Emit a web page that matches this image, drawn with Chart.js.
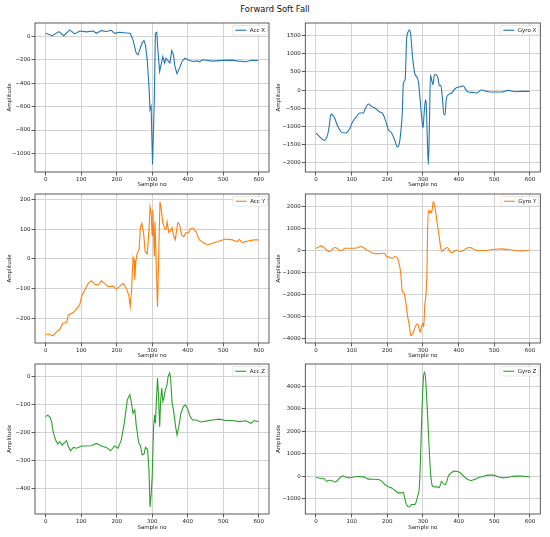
<!DOCTYPE html>
<html>
<head>
<meta charset="utf-8">
<script src="https://cdn.jsdelivr.net/npm/chart.js@4.4.1/dist/chart.umd.min.js"></script>
<style>
  body { margin: 0; background: #fff; }
  #page { position: relative; width: 550px; height: 537px; overflow: hidden; font-family: 'DejaVu Sans', sans-serif; }
  #title { position: absolute; left: 0; top: 4px; width: 550px; text-align: center; font-size: 8.4px; color: #111; }
  .cell { position: absolute; }
</style>
</head>
<body>
<div id="page">
  <div id="title">Forward Soft Fall</div>
</div>
<script>
// ── Data ──
const xTicks = [0, 100, 200, 300, 400, 500, 600];

const accXSamples = [0, 19, 37, 51, 68, 82, 96, 115, 134, 143, 157, 171, 185, 194, 208, 227, 238, 246, 255, 260, 265, 272, 277, 281, 286, 291, 294, 297, 301, 306, 309, 313, 316, 321, 325, 330, 335, 339, 346, 350, 355, 360, 364, 370, 377, 384, 392, 400, 414, 428, 433, 442, 470, 500, 526, 538, 564, 580, 599];
const accXValues  = [25, 5, 40, 5, 54, 20, 45, 37, 45, 25, 48, 40, 51, 25, 34, 28, 25, -31, -145, -159, -116, -54, -37, -74, -201, -428, -626, -600, -1094, -541, 25, 34, -116, -300, -244, -173, -229, -187, -215, -229, -122, -159, -258, -320, -272, -215, -187, -201, -215, -210, -218, -201, -212, -206, -204, -210, -218, -205, -207];
const accXTicks   = [-1000, -800, -600, -400, -200, 0];

const gyroXSamples = [0, 11, 23, 32, 37, 42, 51, 61, 72, 83, 93, 102, 114, 123, 133, 137, 147, 156, 165, 179, 186, 195, 203, 212, 222, 228, 233, 238, 242, 245, 250, 254, 259, 263, 266, 271, 278, 282, 287, 292, 296, 300, 303, 307, 309, 312, 315, 318, 321, 324, 328, 332, 337, 342, 346, 350, 354, 359, 362, 365, 371, 380, 390, 399, 408, 413, 420, 427, 441, 450, 464, 479, 493, 521, 539, 558, 577, 599];
const gyroXValues  = [-1178, -1288, -1379, -1251, -995, -660, -740, -995, -1160, -1178, -1087, -885, -721, -630, -630, -538, -383, -447, -493, -602, -630, -831, -1087, -1178, -1407, -1562, -1498, -1133, -630, 193, 284, 1381, 1609, 1655, 1471, 877, 420, 375, 238, -265, -721, -1041, -677, -265, -356, -1270, -2046, -995, 420, 284, 147, 420, 420, 330, 120, 129, -172, -675, -675, -265, -128, -81, 37, 83, 101, 120, 10, -54, -63, -81, 1, -36, -54, -54, -8, -45, -36, -36];
const gyroXTicks   = [-2000, -1500, -1000, -500, 0, 500, 1000, 1500];

const accYSamples = [0, 7, 21, 31, 40, 48, 59, 64, 78, 92, 96, 101, 110, 120, 129, 138, 148, 157, 166, 176, 190, 199, 208, 218, 227, 234, 238, 242, 246, 249, 251, 254, 258, 263, 267, 271, 276, 280, 286, 291, 294, 297, 300, 302, 306, 308, 311, 315, 319, 322, 326, 330, 335, 339, 342, 347, 350, 356, 360, 365, 372, 377, 383, 389, 395, 402, 409, 416, 423, 433, 447, 456, 470, 489, 507, 526, 540, 545, 554, 573, 587, 599];
const accYValues  = [-255, -252, -258, -244, -236, -216, -213, -188, -180, -160, -154, -126, -104, -82, -73, -85, -87, -73, -82, -93, -91, -101, -93, -82, -98, -121, -160, -104, 6, -3, -70, -9, 19, 30, 108, 120, 86, 25, 17, 97, 175, 153, 80, 164, 8, 125, -3, -160, 41, 192, 164, 120, 103, 99, 125, 88, 92, 105, 80, 64, 122, 116, 80, 75, 88, 88, 103, 103, 92, 64, 53, 47, 53, 60, 67, 64, 58, 66, 55, 61, 64, 64];
const accYTicks   = [-200, -100, 0, 100, 200];

const gyroYSamples = [0, 7, 14, 21, 30, 37, 44, 53, 61, 67, 75, 81, 95, 109, 119, 126, 133, 142, 156, 170, 184, 192, 198, 207, 214, 222, 228, 234, 238, 242, 247, 252, 257, 262, 266, 271, 276, 280, 285, 289, 292, 296, 300, 302, 305, 308, 311, 313, 316, 318, 321, 324, 329, 334, 340, 346, 350, 354, 359, 364, 369, 374, 380, 387, 394, 404, 413, 422, 432, 441, 450, 464, 483, 501, 521, 539, 558, 577, 599];
const gyroYValues  = [111, 157, 218, 157, 35, -41, 35, 142, 81, 5, 35, 111, 111, 111, 142, 187, 142, 35, -87, -148, -117, -117, -270, -300, -346, -270, -346, -650, -1107, -1869, -1945, -2402, -3011, -3468, -3895, -3803, -3590, -3422, -3346, -3544, -3742, -3468, -3316, -3498, -2478, -2097, -1031, 949, 1863, 1711, 1833, 1711, 2244, 1940, 1254, 568, 111, -41, 65, 111, 142, 5, -87, -41, 20, -41, 5, 111, 142, 81, 20, 5, 20, 65, 81, 50, 5, -11, 20];
const gyroYTicks   = [-4000, -3000, -2000, -1000, 0, 1000, 2000];

const accZSamples = [0, 6, 12, 17, 21, 28, 34, 40, 47, 51, 59, 64, 70, 78, 87, 101, 115, 129, 143, 157, 171, 183, 194, 204, 213, 222, 230, 237, 241, 246, 251, 255, 262, 267, 272, 277, 281, 287, 291, 294, 297, 300, 304, 307, 309, 312, 315, 318, 321, 324, 327, 330, 334, 337, 341, 345, 349, 352, 356, 360, 366, 370, 375, 381, 388, 393, 400, 407, 414, 423, 437, 451, 470, 489, 507, 526, 545, 564, 578, 587, 599];
const accZValues  = [-144, -139, -146, -162, -198, -228, -242, -234, -246, -240, -230, -251, -266, -254, -257, -249, -249, -248, -240, -249, -254, -266, -249, -257, -228, -162, -84, -66, -90, -132, -120, -174, -237, -249, -281, -278, -254, -261, -335, -467, -425, -359, -180, -138, -168, -84, -6, -72, -180, -84, -42, -90, -72, -48, -36, 0, 12, -6, -96, -120, -180, -210, -180, -132, -108, -102, -117, -144, -156, -156, -163, -160, -156, -153, -158, -158, -162, -159, -168, -158, -162];
const accZTicks   = [-400, -300, -200, -100, 0];

const gyroZSamples = [0, 11, 23, 30, 37, 44, 51, 58, 67, 75, 81, 91, 102, 114, 133, 145, 156, 175, 184, 193, 203, 212, 222, 231, 240, 245, 248, 252, 257, 262, 268, 276, 280, 285, 290, 293, 297, 301, 305, 308, 313, 318, 322, 327, 334, 341, 345, 349, 352, 357, 362, 366, 371, 379, 388, 397, 407, 416, 426, 435, 444, 455, 469, 483, 497, 511, 525, 539, 558, 577, 599];
const gyroZValues  = [-48, -77, -107, -211, -167, -182, -241, -211, -62, 27, -18, -62, -33, -3, -18, -107, -122, -137, -211, -360, -464, -509, -628, -732, -732, -702, -911, -1178, -1327, -1356, -1253, -1253, -1178, -881, -434, 756, 2839, 4327, 4655, 4179, 2690, 1053, 12, -434, -464, -464, -509, -360, -211, -315, -360, -256, 12, 161, 235, 220, 131, -18, -137, -182, -137, -62, 12, 57, 57, -18, -62, -33, 12, 12, -18];
const gyroZTicks   = [-1000, 0, 1000, 2000, 3000, 4000];

// ── Layout ──
const rows = [
  { top: 18,  height: 176, axisH: 22 },
  { top: 189, height: 176, axisH: 22 },
  { top: 359, height: 178, axisH: 23 },
];
const cols = [
  { left: 0,   yAxisW: 35,   padRight: 6,   titlePad: 6.7 },
  { left: 275, yAxisW: 30.3, padRight: 9.7, titlePad: 0.7 },
];

const panels = [
  { label: 'Acc X',  color: '#1f77b4', xs: accXSamples,  ys: accXValues,  ticks: accXTicks,  min: -1158, max: 113,  row: 0, col: 0, smooth: false },
  { label: 'Gyro X', color: '#1f77b4', xs: gyroXSamples, ys: gyroXValues, ticks: gyroXTicks, min: -2247, max: 1840, row: 0, col: 1, smooth: true },
  { label: 'Acc Y',  color: '#ff7f0e', xs: accYSamples,  ys: accYValues,  ticks: accYTicks,  min: -282,  max: 218,  row: 1, col: 0, smooth: false },
  { label: 'Gyro Y', color: '#ff7f0e', xs: gyroYSamples, ys: gyroYValues, ticks: gyroYTicks, min: -4225, max: 2592, row: 1, col: 1, smooth: true },
  { label: 'Acc Z',  color: '#2ca02c', xs: accZSamples,  ys: accZValues,  ticks: accZTicks,  min: -492,  max: 44,   row: 2, col: 0, smooth: false },
  { label: 'Gyro Z', color: '#2ca02c', xs: gyroZSamples, ys: gyroZValues, ticks: gyroZTicks, min: -1670, max: 5000, row: 2, col: 1, smooth: true },
];

const FONT = "'DejaVu Sans', sans-serif";
const minus = v => (v < 0 ? '\u2212' + Math.abs(v) : String(v));

// ── Plugins: axes frame + matplotlib-like legend box ──
const frame = {
  id: 'frame',
  afterDraw(chart) {
    const { ctx, chartArea: a } = chart;
    ctx.save();
    ctx.strokeStyle = '#333';
    ctx.lineWidth = 0.8;
    ctx.strokeRect(a.left, a.top, a.right - a.left, a.bottom - a.top);
    ctx.restore();
  }
};

const legendBox = {
  id: 'legendBox',
  afterDraw(chart) {
    const { ctx, chartArea: a } = chart;
    const ds = chart.data.datasets[0];
    ctx.save();
    ctx.font = '5.5px ' + FONT;
    const tw = ctx.measureText(ds.label).width;
    const w = tw + 20, h = 9.5;
    const x = a.right - 1.5 - w, y = a.top + 2.5;
    ctx.beginPath();
    ctx.roundRect(x, y, w, h, 1.5);
    ctx.fillStyle = 'rgba(255,255,255,0.85)';
    ctx.fill();
    ctx.strokeStyle = '#d6d6d6';
    ctx.lineWidth = 0.6;
    ctx.stroke();
    ctx.beginPath();
    ctx.moveTo(x + 3, y + h / 2);
    ctx.lineTo(x + 14, y + h / 2);
    ctx.strokeStyle = ds.borderColor;
    ctx.lineWidth = 1.1;
    ctx.stroke();
    ctx.fillStyle = '#222';
    ctx.textBaseline = 'middle';
    ctx.fillText(ds.label, x + 17.5, y + h / 2 + 0.3);
    ctx.restore();
  }
};

// ── Build charts ──
const page = document.getElementById('page');

panels.forEach(p => {
  const r = rows[p.row], c = cols[p.col];
  const cell = document.createElement('div');
  cell.className = 'cell';
  cell.style.left = c.left + 'px';
  cell.style.top = r.top + 'px';
  cell.style.width = '275px';
  cell.style.height = r.height + 'px';
  const canvas = document.createElement('canvas');
  cell.appendChild(canvas);
  page.appendChild(cell);

  new Chart(canvas, {
    type: 'line',
    data: {
      datasets: [{
        label: p.label,
        data: p.xs.map((x, i) => ({ x, y: p.ys[i] })),
        borderColor: p.color,
        backgroundColor: p.color,
        borderWidth: 1.1,
        pointRadius: 0,
        fill: false,
        cubicInterpolationMode: p.smooth ? 'monotone' : 'default',
        tension: 0,
      }]
    },
    options: {
      responsive: true,
      maintainAspectRatio: false,
      animation: false,
      layout: { padding: { top: 5, right: c.padRight, left: 0, bottom: 0 } },
      plugins: { legend: { display: false }, tooltip: { enabled: false } },
      scales: {
        x: {
          type: 'linear',
          min: -30,
          max: 629,
          afterBuildTicks: s => { s.ticks = xTicks.map(v => ({ value: v })); },
          afterFit: s => { s.height = r.axisH; },
          grid: { color: '#d3d3d3', lineWidth: 1, tickLength: 3.5, tickColor: '#333', tickWidth: 0.8 },
          border: { display: false },
          ticks: { color: '#222', font: { family: FONT, size: 5.5 }, padding: 0.5, maxRotation: 0, callback: v => minus(v) },
          title: { display: true, text: 'Sample no', color: '#222', font: { family: FONT, size: 5.5 }, padding: { top: 0, bottom: 6 } }
        },
        y: {
          type: 'linear',
          min: p.min,
          max: p.max,
          afterBuildTicks: s => { s.ticks = p.ticks.map(v => ({ value: v })); },
          afterFit: s => { s.width = c.yAxisW; },
          grid: { color: '#d3d3d3', lineWidth: 1, tickLength: 3.5, tickColor: '#333', tickWidth: 0.8 },
          border: { display: false },
          ticks: { color: '#222', font: { family: FONT, size: 5.5 }, padding: 1, callback: v => minus(v) },
          title: { display: true, text: 'Amplitude', color: '#222', font: { family: FONT, size: 5.5 }, padding: { top: c.titlePad, bottom: 0 } }
        }
      }
    },
    plugins: [frame, legendBox]
  });
});
</script>
</body>
</html>
